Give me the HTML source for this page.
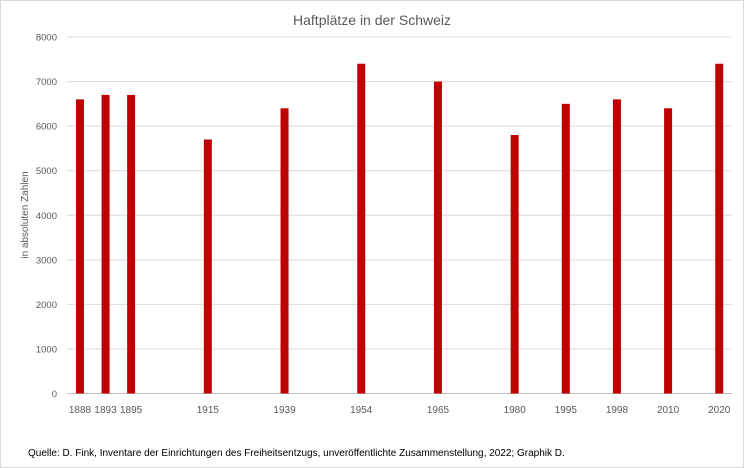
<!DOCTYPE html>
<html><head><meta charset="utf-8"><style>
body{margin:0;background:#fff;font-family:"Liberation Sans",sans-serif}
#c{position:absolute;left:0;top:0;width:742px;height:466px;border:1px solid #d9d9d9}
</style></head><body>
<div id="c"></div>
<svg id="s" width="744" height="468" style="position:absolute;left:0;top:0">
<text x="372" y="25" text-anchor="middle" font-size="14" fill="#595959">Haftplätze in der Schweiz</text>
<text transform="translate(28,215) rotate(-90)" text-anchor="middle" font-size="10" fill="#595959">in absoluten Zahlen</text>
<text x="28" y="456" font-size="10" fill="#000">Quelle: D. Fink, Inventare der Einrichtungen des Freiheitsentzugs, unveröffentlichte Zusammenstellung, 2022; Graphik D.</text>
<g id="grid"></g><g id="bars"></g><g id="xl"></g>
</svg>
<script>
const categories=["1888","1893","1895","1915","1939","1954","1965","1980","1995","1998","2010","2020"];
const slots=[0,1,2,5,8,11,14,17,19,21,23,25];
const values=[6600,6700,6700,5700,6400,7400,7000,5800,6500,6600,6400,7400];
const yTicks=[0,1000,2000,3000,4000,5000,6000,7000,8000];
const NS="http://www.w3.org/2000/svg";
const x0=67.2,x1=732,nSlots=26,yBase=393.5,yTop=37,yMax=8000;
const sw=(x1-x0)/nSlots;
const xs=i=>x0+sw*(i+0.5);
const ys=v=>yBase-(yBase-yTop)*v/yMax;
function mk(t,a,p){const e=document.createElementNS(NS,t);for(const k in a)e.setAttribute(k,a[k]);p.appendChild(e);return e;}
const g=document.getElementById('grid');
yTicks.forEach(v=>{
 const l=mk('line',{x1:x0,x2:x1,y1:ys(v),y2:ys(v),stroke:v===0?'#bfbfbf':'#d9d9d9','stroke-width':1},g);
 
 
 const t=mk('text',{x:57,y:ys(v)+3.5,'text-anchor':'end','font-size':9.5,fill:'#595959'},g);
 t.textContent=v;
 
 
});
const b=document.getElementById('bars'),xl=document.getElementById('xl');
categories.forEach((c,i)=>{
 const cx=xs(slots[i]);
 const r=mk('rect',{x:cx-4,y:ys(values[i]),width:8,height:yBase-ys(values[i]),fill:'#c00000'},b);
 
 
 const t=mk('text',{x:cx,y:413,'text-anchor':'middle','font-size':10,fill:'#595959'},xl);
 t.textContent=c;
 
 
});
</script>
</body></html>
